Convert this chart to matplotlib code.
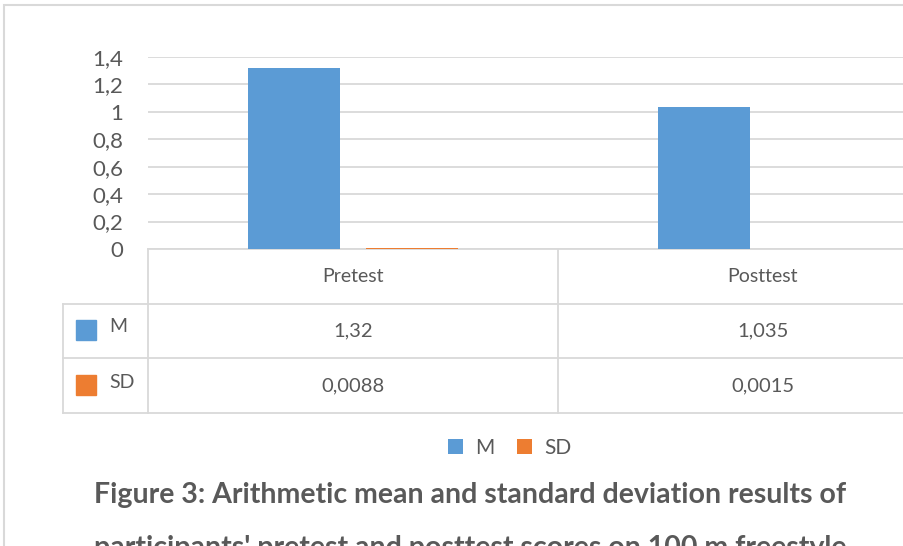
import matplotlib
matplotlib.use("Agg")
import matplotlib.pyplot as plt
from matplotlib.patches import Rectangle
from matplotlib.lines import Line2D
from matplotlib.transforms import blended_transform_factory

categories = ["Pretest", "Posttest"]
series_names = ["M", "SD"]
m_values = [1.32, 1.035]
sd_values = [0.0088, 0.0015]
y_ticks = [0, 0.2, 0.4, 0.6, 0.8, 1.0, 1.2, 1.4]
caption = ["Figure 3: Arithmetic mean and standard deviation results of",
           "participants' pretest and posttest scores on 100 m freestyle"]

colors = ["#5B9BD5", "#ED7D31"]
grid_c = "#D9D9D9"
text_c = "#595959"

plt.rcParams['font.family'] = ['Lato', 'DejaVu Sans']

W, H = 904, 546
fig = plt.figure(figsize=(W / 100, H / 100), dpi=100)

# outer chart frame (runs past the right/bottom edge)
fig.add_artist(Rectangle((4.5 / W, -0.1), 1.2, 1 - 4.5 / H + 0.1, transform=fig.transFigure,
                         fill=False, edgecolor=grid_c, lw=1.5))

# plot area in pixels
x0, x1 = 148, 968
y_top, y_bot = 57, 249
ax = fig.add_axes([x0 / W, (H - y_bot) / H, (x1 - x0) / W, (y_bot - y_top) / H])

x = list(range(len(categories)))
bw = 0.225
off = 0.143
ax.bar([i - off for i in x], m_values, bw, color=colors[0], label=series_names[0], zorder=3)
ax.bar([i + off for i in x], sd_values, bw, color=colors[1], label=series_names[1], zorder=3)

ax.set_xlim(-0.5, len(categories) - 0.5)
ax.set_ylim(0, 1.4)
ax.set_yticks(y_ticks)
ax.set_yticklabels([f"{v:g}".replace('.', ',') for v in y_ticks])
ax.tick_params(axis='y', length=0, pad=18, labelsize=16, labelcolor=text_c)
ax.set_xticks([])
for s in ax.spines.values():
    s.set_visible(False)
ax.yaxis.grid(True, color=grid_c, lw=1.3, zorder=0)
ax.set_axisbelow(True)

# data table below the plot
tr = blended_transform_factory(ax.transData, ax.transAxes)
rh = 54.7 / (y_bot - y_top)
left_x = -0.5 - (x0 - 63) / 410
right_x = len(categories) - 0.5


def tline(xs, ys):
    ax.add_line(Line2D(xs, ys, transform=tr, color=grid_c, lw=1.3, clip_on=False))


tline([-0.5, right_x], [0, 0])
for k in (1, 2, 3):
    tline([left_x, right_x], [-k * rh, -k * rh])
tline([left_x, left_x], [-rh, -3 * rh])
for k in range(len(categories) + 1):
    tline([k - 0.5, k - 0.5], [0, -3 * rh])

for i, c in enumerate(categories):
    ax.text(i, -0.5 * rh, c, transform=tr, ha='center', va='center',
            fontsize=14, color=text_c)
for r, vals in enumerate([m_values, sd_values]):
    yc = -(1.5 + r) * rh
    for i, v in enumerate(vals):
        ax.text(i, yc, str(v).replace('.', ','), transform=tr, ha='center', va='center',
                fontsize=14.5, color=text_c)

# row labels with colour keys
for r, name in enumerate(series_names):
    yc = 330 + r * 55
    fig.add_artist(Rectangle((76 / W, (H - yc - 10) / H), 20 / W, 20 / H,
                             transform=fig.transFigure, color=colors[r]))
    fig.text(109 / W, (H - yc + 3) / H, name, ha='left', va='center',
             fontsize=14, color=text_c)

# legend
handles, labels = ax.get_legend_handles_labels()
fig.legend(handles, labels, loc='center', bbox_to_anchor=(510 / W, (H - 448) / H), ncol=2,
           frameon=False, fontsize=15, labelcolor=text_c, handlelength=0.7, handleheight=0.7,
           handletextpad=0.6, columnspacing=1.1)

# caption
fig.text(470 / W, (H - 495) / H, caption[0], ha='center', va='center',
         fontsize=20.5, fontweight='bold', color=text_c)
fig.text(470 / W, (H - 556) / H, caption[1], ha='center', va='baseline',
         fontsize=20.5, fontweight='bold', color=text_c)

fig.savefig("out.png", dpi=100, facecolor='white')
